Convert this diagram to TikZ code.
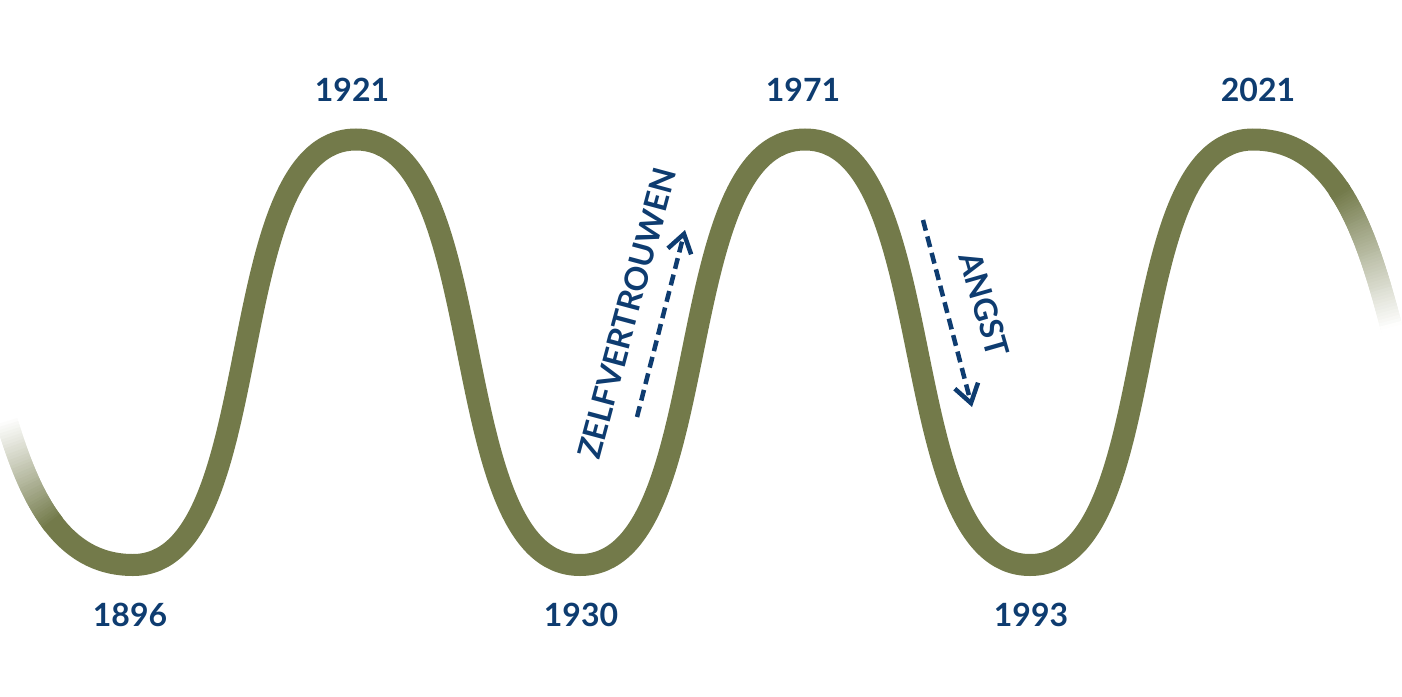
\documentclass[tikz,border=0pt]{standalone}
\usepackage{fontspec}
\setmainfont{Lato}
\usetikzlibrary{arrows.meta}
\definecolor{wave}{RGB}{115,122,74}
\definecolor{navy}{RGB}{14,60,112}
\tikzset{
  declare function={bez(\t,\a,\b,\c,\d)=(1-\t)^3*\a+3*(1-\t)^2*\t*\b+3*(1-\t)*\t^2*\c+\t^3*\d;},
  wavestroke/.style={line width=22pt, line cap=butt},
  year/.style={text=navy, font=\fontsize{32}{32}\selectfont\bfseries, anchor=base, inner sep=0pt},
  slanttext/.style={text=navy, font=\fontsize{32}{32}\selectfont\bfseries, inner sep=0pt},
  trend/.style={navy, line width=4.5pt, dash pattern=on 11pt off 6pt, -{Straight Barb[length=18pt,width=24pt]}}
}
\begin{document}
\begin{tikzpicture}[x=1pt,y=-1pt]
\useasboundingbox (0,0) rectangle (1402,696);
% solid part of the wave
\draw[wave, wavestroke] (51,520.8) .. controls (71,548.0) and (97,565) .. (133,565)
  .. controls (271.6,565) and (217.4,139.5) .. (356,139.5)
  .. controls (494.6,139.5) and (441.4,565) .. (580,565)
  .. controls (718.6,565) and (666.4,139.5) .. (805,139.5)
  .. controls (943.6,139.5) and (891.4,565) .. (1030,565)
  .. controls (1168.6,565) and (1114.4,139.5) .. (1253,139.5)
  .. controls (1292.6,139.5) and (1320.1,160.1) .. (1340.8,192.2);
% faded left end
\foreach \i in {0,...,40}{
  \pgfmathsetmacro\ta{0.60+\i*0.005}
  \pgfmathsetmacro\tb{\ta+0.01}
  \pgfmathsetmacro\xa{bez(\ta,-157,23,-47,133)}
  \pgfmathsetmacro\ya{bez(\ta,139.5,139.5,565,565)}
  \pgfmathsetmacro\xb{bez(\tb,-157,23,-47,133)}
  \pgfmathsetmacro\yb{bez(\tb,139.5,139.5,565,565)}
  \pgfmathtruncatemacro\p{min(100,max(0,(\ta-0.605)/0.195*100))}
  \draw[wave!\p!white, wavestroke] (\xa,\ya) -- (\xb,\yb);
}
% faded right end
\foreach \i in {0,...,50}{
  \pgfmathsetmacro\ta{0.21+\i*0.005}
  \pgfmathsetmacro\tb{\ta+0.01}
  \pgfmathsetmacro\xa{bez(\ta,1253,1433,1363,1543)}
  \pgfmathsetmacro\ya{bez(\ta,139.5,139.5,565,565)}
  \pgfmathsetmacro\xb{bez(\tb,1253,1433,1363,1543)}
  \pgfmathsetmacro\yb{bez(\tb,139.5,139.5,565,565)}
  \pgfmathtruncatemacro\p{min(100,max(0,100-(\ta-0.22)/0.24*100))}
  \draw[wave!\p!white, wavestroke] (\xa,\ya) -- (\xb,\yb);
}
% years
\node[year] (y1921) at (352,101.7) {1921};
\node[year] (y1971) at (803,101.7) {1971};
\node[year] (y2021) at (1258,101.7) {2021};
\node[year] (y1896) at (130,626.7) {1896};
\node[year] (y1930) at (581,626.7) {1930};
\node[year] (y1993) at (1031,626.7) {1993};
% trend labels
\node[slanttext, rotate=75] (zelf) at (627,313.5) {ZELFVERTROUWEN};
\node[slanttext, rotate=-74] (angst) at (984.5,304.5) {ANGST};
% trend arrows
\coordinate (zs) at (637,417);
\coordinate (ze) at (685,230);
\coordinate (as) at (923,220);
\coordinate (ae) at (972,407);
\draw[trend] (zs) -- (ze);
\draw[trend] (as) -- (ae);
\end{tikzpicture}
\end{document}
